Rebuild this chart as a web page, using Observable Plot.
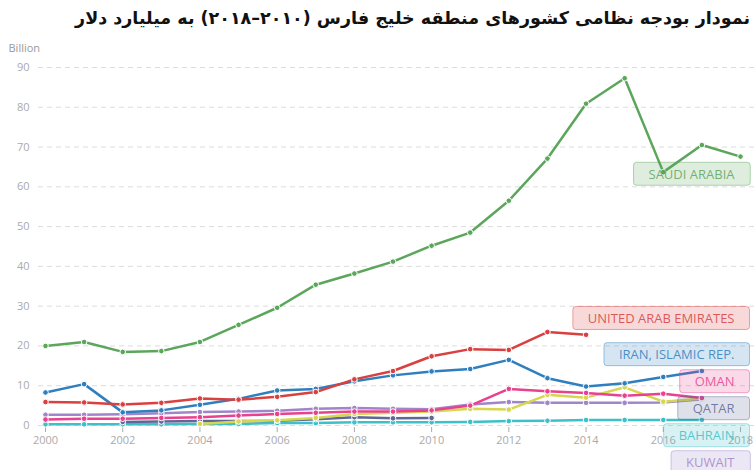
<!DOCTYPE html>
<html><head><meta charset="utf-8">
<script src="https://cdn.jsdelivr.net/npm/d3@7"></script>
<script src="https://cdn.jsdelivr.net/npm/@observablehq/plot@0.6"></script>
<style>
html,body{margin:0;padding:0;background:#fff;overflow:hidden;width:755px;height:470px;}
#title{height:36px;width:755px;box-sizing:border-box;padding-right:5px;direction:rtl;text-align:right;font-family:"DejaVu Sans",sans-serif;font-size:17.5px;line-height:36px;font-weight:bold;color:#111;white-space:nowrap;overflow:hidden;}
#title .yrs{unicode-bidi:bidi-override;direction:ltr;}
#chart svg{display:block;}
</style></head><body>
<div id="title">نمودار بودجه نظامی کشورهای منطقه خلیج فارس <span class="yrs">(۲۰۱۸–۲۰۱۰)</span> به میلیارد دلار</div>
<div id="chart"></div>
<script>
const years = [2000,2001,2002,2003,2004,2005,2006,2007,2008,2009,2010,2011,2012,2013,2014,2015,2016,2017,2018];
const xTicks = [2000,2002,2004,2006,2008,2010,2012,2014,2016,2018];
const yTicks = [0,10,20,30,40,50,60,70,80,90];
const yUnit = "Billion";

// label order (top to bottom)
const countries = ["SAUDI ARABIA","UNITED ARAB EMIRATES","IRAN, ISLAMIC REP.","OMAN","QATAR","BAHRAIN","KUWAIT","IRAQ"];
const colors    = ["#5ca65c","#d9403f","#2f7fbf","#e8418f","#5e6796","#3ec0c9","#a185c9","#d6d64f"];
const labelled  = [true,true,true,true,true,true,true,false];

const saudi   = [20.0,21.0,18.5,18.7,21.0,25.3,29.6,35.4,38.2,41.2,45.2,48.5,56.5,67.1,80.9,87.3,63.7,70.5,67.6];
const uae     = [5.9,5.8,5.3,5.7,6.8,6.5,7.2,8.4,11.6,13.7,17.4,19.2,19.0,23.5,22.8,null,null,null,null];
const iran    = [8.3,10.4,3.3,3.8,5.2,6.7,8.8,9.2,11.1,12.6,13.6,14.2,16.5,11.9,9.8,10.6,12.2,13.7,null];
const oman    = [1.5,1.7,1.7,1.9,2.1,2.5,2.9,3.2,3.5,3.5,3.8,5.0,9.2,8.6,8.2,7.5,8.0,6.9,null];
const qatar   = [null,null,0.9,1.0,1.1,1.1,1.2,1.6,2.1,1.8,1.9,null,null,null,null,null,null,null,null];
const bahrain = [0.3,0.3,0.3,0.3,0.4,0.4,0.6,0.6,0.8,0.8,0.8,0.9,1.1,1.2,1.4,1.4,1.4,1.4,null];
const kuwait  = [2.7,2.7,2.8,3.1,3.4,3.5,3.7,4.2,4.4,4.2,4.1,5.3,5.9,5.7,5.7,5.7,5.8,6.6,null];
const iraq    = [null,null,null,null,0.4,1.0,1.3,1.9,2.9,3.2,3.5,4.2,4.0,7.7,7.0,9.6,6.0,6.8,null];

const seriesValues = [saudi, uae, iran, oman, qatar, bahrain, kuwait, iraq];
// drawing order (bottom first)
const drawOrder = ["BAHRAIN","QATAR","KUWAIT","IRAQ","OMAN","IRAN, ISLAMIC REP.","UNITED ARAB EMIRATES","SAUDI ARABIA"];

const data = [];
for (const c of drawOrder) {
  const vals = seriesValues[countries.indexOf(c)];
  vals.forEach((v, i) => { if (v != null) data.push({country: c, year: years[i], value: v}); });
}

const W = 755, H = 434, mt = 31, mb = 43, ml = 38, mr = 0, insB = 2;
const y0 = H - mb - insB, y1 = mt;
const ypx = v => y0 - v * (y0 - y1) / 90;
const yinv = p => (y0 - p) * 90 / (y0 - y1);

// label placement: above the last point (below it when the series reaches the right edge),
// then pushed down to avoid overlapping the previous label
const labels = [];
let prev = -Infinity;
countries.forEach((c, k) => {
  if (!labelled[k]) return;
  const vals = seriesValues[k];
  let li = -1;
  for (let i = vals.length - 1; i >= 0; i--) if (vals[i] != null) { li = i; break; }
  let p = ypx(vals[li]) + (li === vals.length - 1 ? 18 : -16);
  if (p < prev + 27) p = prev + 27;
  prev = p;
  labels.push({name: c, color: colors[k], yv: yinv(p)});
});

const plot = Plot.plot({
  width: W, height: H,
  marginTop: mt, marginBottom: mb, marginLeft: ml, marginRight: mr,
  style: {fontFamily: "'Open Sans', sans-serif", fontSize: "11px", color: "#aaa", background: "#fff", overflow: "visible"},
  x: {domain: [2000, 2018], insetLeft: 7, insetRight: 15, ticks: xTicks, tickFormat: d => String(d), tickSize: 5, tickPadding: 4, label: null},
  y: {domain: [0, 90], insetBottom: insB, ticks: yTicks, tickSize: 0, tickPadding: 9, label: null},
  color: {domain: countries, range: colors},
  marks: [
    Plot.ruleY(yTicks, {stroke: "#dcdcdc", strokeDasharray: "5,4", strokeWidth: 1}),
    Plot.line(data, {x: "year", y: "value", z: "country", stroke: "country", strokeWidth: 2.5}),
    Plot.dot(data, {x: "year", y: "value", fill: "country", r: 2.8, stroke: "white", strokeWidth: 1}),
    Plot.text([yUnit], {text: d => d, frameAnchor: "top-left", dx: -30, dy: -23, textAnchor: "start", fill: "#999", fontSize: 11}),
    Plot.text(labels, {text: "name", y: "yv", frameAnchor: "right", textAnchor: "end", dx: -21, fill: "color", fontSize: 13, fillOpacity: 0.85})
  ]
});
document.getElementById("chart").appendChild(plot);

// boxes behind labels
const svg = d3.select(plot);
const sr = plot.getBoundingClientRect();
const names = labels.map(d => d.name);
const labelTexts = svg.selectAll("text").filter(function() { return names.includes(this.textContent); });
const boxG = svg.insert("g", () => labelTexts.node().parentNode);
labelTexts.each(function() {
  const r = this.getBoundingClientRect();
  const lab = labels[names.indexOf(this.textContent)];
  boxG.append("rect")
    .attr("x", r.left - sr.left - 15).attr("y", (r.top + r.bottom) / 2 - sr.top - 11.5)
    .attr("width", r.width + 30).attr("height", 23).attr("rx", 3)
    .attr("fill", lab.color).attr("fill-opacity", 0.2)
    .attr("stroke", lab.color).attr("stroke-opacity", 0.45).attr("stroke-width", 1);
});
</script>
</body></html>
